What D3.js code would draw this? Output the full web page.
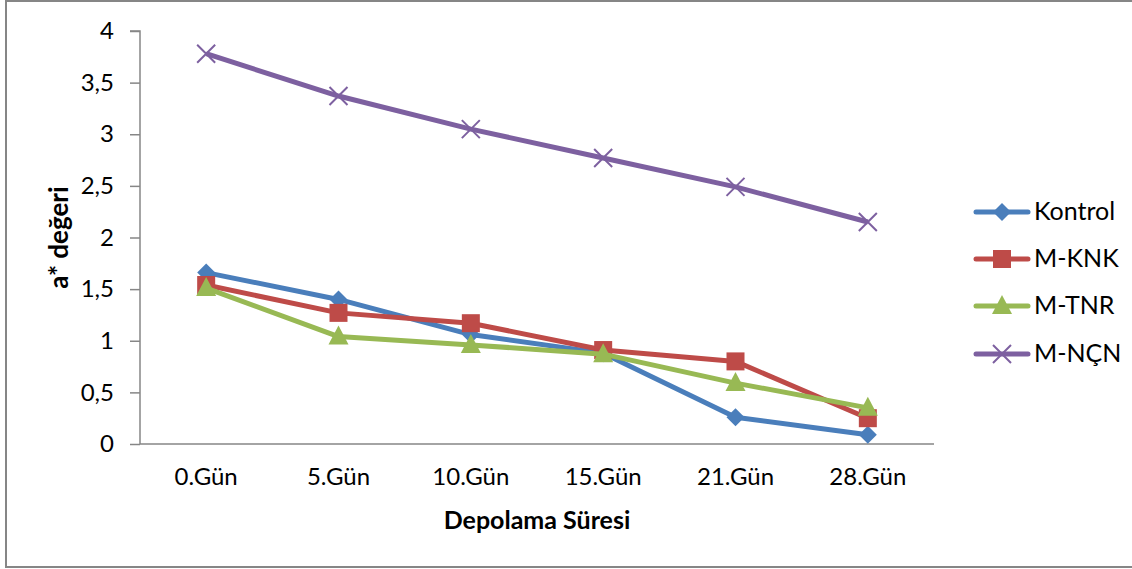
<!DOCTYPE html>
<html><head><meta charset="utf-8">
<script src="https://cdn.jsdelivr.net/npm/d3@7"></script>
<style>body{margin:0;background:#fff}svg{display:block}text{font-family:Lato,"Open Sans",sans-serif}</style>
</head><body>
<svg id="c" width="1132" height="569"></svg>
<script>
const categories = ["0.Gün","5.Gün","10.Gün","15.Gün","21.Gün","28.Gün"];
const kontrol = [1.66,1.40,1.06,0.88,0.26,0.09];
const mKNK = [1.54,1.27,1.17,0.91,0.80,0.25];
const mTNR = [1.51,1.04,0.96,0.87,0.59,0.35];
const mNCN = [3.78,3.37,3.05,2.77,2.49,2.15];
const seriesNames = ["Kontrol","M-KNK","M-TNR","M-NÇN"];
const yTicks = [0,0.5,1,1.5,2,2.5,3,3.5,4];

const series = [
  {name: seriesNames[0], values: kontrol, color:"#4A7EBB", marker:"diamond"},
  {name: seriesNames[1], values: mKNK, color:"#BE4B48", marker:"square"},
  {name: seriesNames[2], values: mTNR, color:"#98B954", marker:"triangle"},
  {name: seriesNames[3], values: mNCN, color:"#7D60A0", marker:"x"}
];

const svg = d3.select("#c");
// outer border
svg.append("rect").attr("x",6).attr("y",1).attr("width",1140).attr("height",566)
  .attr("fill","none").attr("stroke","#868686").attr("stroke-width",2);

const L=140, R=934, T=31, B=444;
const x = d3.scaleBand().domain(categories).range([L,R]);
const y = d3.scaleLinear().domain([0,4]).range([B,T]);

// y axis
const yAxis = d3.axisLeft(y).tickValues(yTicks).tickSize(10).tickPadding(16)
  .tickFormat(d => String(d).replace(".",","));
const gy = svg.append("g").attr("transform",`translate(${L},0)`).call(yAxis);
gy.select(".domain").attr("stroke","#868686").attr("stroke-width",1.5).attr("d",`M-10,${T}H0V${B}`);
gy.selectAll(".tick line").attr("stroke","#868686").attr("stroke-width",1.5);
gy.selectAll(".tick text").attr("font-size",24).attr("fill","#000").attr("font-family","Lato");

// x axis
const xAxis = d3.axisBottom(x).tickSize(0).tickPadding(24);
const gx = svg.append("g").attr("transform",`translate(0,${B})`).call(xAxis);
gx.select(".domain").attr("stroke","#868686").attr("stroke-width",1.5).attr("d",`M${L},0H${R}`);
gx.selectAll(".tick text").attr("font-size",24).attr("fill","#000").attr("font-family","Lato");

// axis titles
svg.append("text").attr("x",(L+R)/2).attr("y",529).attr("text-anchor","middle")
  .attr("font-size",25).attr("font-weight","bold").text("Depolama Süresi");
svg.append("text").attr("transform",`translate(68,${(T+B)/2}) rotate(-90)`).attr("text-anchor","middle")
  .attr("font-size",26).attr("font-weight","bold").text("a* değeri");

function drawMarker(g, type, color, cx, cy){
  if(type==="diamond"){
    g.append("path").attr("d",`M${cx},${cy-9}L${cx+9},${cy}L${cx},${cy+9}L${cx-9},${cy}Z`).attr("fill",color);
  } else if(type==="square"){
    g.append("rect").attr("x",cx-9).attr("y",cy-9).attr("width",18).attr("height",18).attr("fill",color);
  } else if(type==="triangle"){
    g.append("path").attr("d",`M${cx},${cy-11}L${cx+10},${cy+8}L${cx-10},${cy+8}Z`).attr("fill",color);
  } else {
    g.append("path").attr("d",`M${cx-9},${cy-9}L${cx+9},${cy+9}M${cx+9},${cy-9}L${cx-9},${cy+9}`)
      .attr("stroke",color).attr("stroke-width",2).attr("fill","none");
  }
}

const line = d3.line().x((d,i)=>x(categories[i])+x.bandwidth()/2).y(d=>y(d));
series.forEach(s=>{
  const g = svg.append("g");
  g.append("path").datum(s.values).attr("d",line).attr("fill","none")
    .attr("stroke",s.color).attr("stroke-width",5).attr("stroke-linejoin","round");
  s.values.forEach((v,i)=>drawMarker(g,s.marker,s.color,x(categories[i])+x.bandwidth()/2,y(v)));
});

// legend
const legY = [212,259,306,354];
series.forEach((s,i)=>{
  const g = svg.append("g");
  g.append("line").attr("x1",976).attr("x2",1028).attr("y1",legY[i]).attr("y2",legY[i])
    .attr("stroke",s.color).attr("stroke-width",5).attr("stroke-linecap","round");
  drawMarker(g,s.marker,s.color,1002,legY[i]);
  g.append("text").attr("x",1034).attr("y",legY[i]+8).attr("font-size",25).text(s.name);
});
</script>
</body></html>
